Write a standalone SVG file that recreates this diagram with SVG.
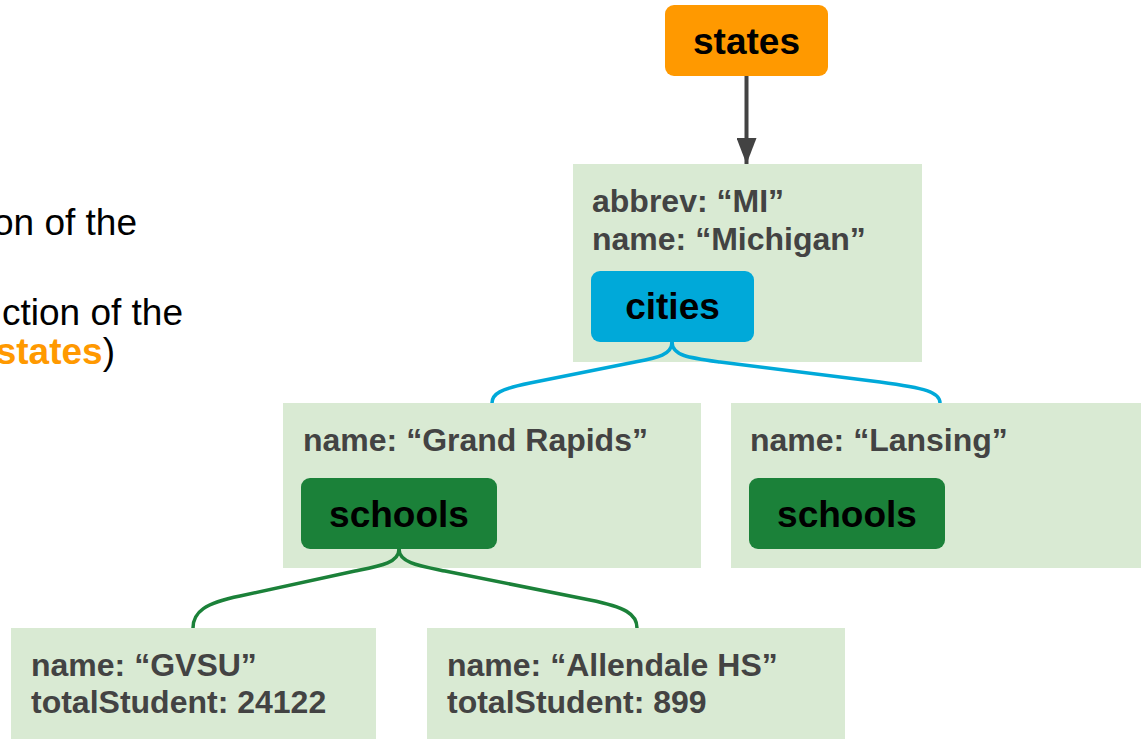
<svg xmlns="http://www.w3.org/2000/svg" width="1141" height="739" viewBox="0 0 1141 739">
<style>
.doc{fill:#D9EAD3}
.t{font-family:"Liberation Sans",Arial,sans-serif;font-weight:bold;font-size:32px;fill:#434343}
.lbl{font-family:"Liberation Sans",Arial,sans-serif;font-weight:bold;font-size:37px;fill:#000;text-anchor:middle}
.side{font-family:"Liberation Sans",Arial,sans-serif;font-size:37px;fill:#000;text-anchor:end}
.cy{fill:none;stroke:#00A9D9;stroke-width:3.5}
.gr{fill:none;stroke:#1B8139;stroke-width:3.5}
</style>
<defs>
<marker id="ah" markerUnits="userSpaceOnUse" markerWidth="27" markerHeight="20" refX="26" refY="10" orient="auto" viewBox="0 0 27 20">
<path d="M0,0 L26,10 L0,20 Z" fill="#434343"/>
</marker>
</defs>
<rect width="1141" height="739" fill="#fff"/>
<g id="side-text">
<text class="side" x="137" y="235">on of the</text>
<text class="side" x="183" y="325">ction of the</text>
<text class="side" x="115" y="364"><tspan style="fill:#FF9900;font-weight:bold">states</tspan><tspan>)</tspan></text>
</g>
<g id="states">
<rect x="665" y="5" width="163" height="71" rx="9" fill="#FF9900"/>
<text class="lbl" x="746.5" y="54">states</text>
</g>
<g id="michigan">
<rect class="doc" x="573" y="164" width="349" height="198"/>
<text class="t" x="592" y="212">abbrev: “MI”</text>
<text class="t" x="592" y="250">name: “Michigan”</text>
</g>
<g id="cities">
<rect x="591" y="271" width="163" height="71" rx="9" fill="#00A9D9"/>
<text class="lbl" x="672.5" y="319">cities</text>
</g>
<g id="grand-rapids">
<rect class="doc" x="283" y="403" width="418" height="165"/>
<text class="t" x="303" y="451">name: “Grand Rapids”</text>
</g>
<g id="schools-gr">
<rect x="301" y="478" width="196" height="71" rx="9" fill="#1B8139"/>
<text class="lbl" x="399" y="527">schools</text>
</g>
<g id="lansing">
<rect class="doc" x="731" y="403" width="410" height="165"/>
<text class="t" x="750" y="451">name: “Lansing”</text>
</g>
<g id="schools-lansing">
<rect x="749" y="478" width="196" height="71" rx="9" fill="#1B8139"/>
<text class="lbl" x="847" y="527">schools</text>
</g>
<g id="gvsu">
<rect class="doc" x="11" y="628" width="365" height="111"/>
<text class="t" x="31" y="676">name: “GVSU”</text>
<text class="t" x="31" y="713">totalStudent: 24122</text>
</g>
<g id="allendale">
<rect class="doc" x="427" y="628" width="418" height="111"/>
<text class="t" x="447" y="676">name: “Allendale HS”</text>
<text class="t" x="447" y="713">totalStudent: 899</text>
</g>
<g id="connectors">
<line x1="746.5" y1="76" x2="746.5" y2="164" stroke="#434343" stroke-width="4" marker-end="url(#ah)"/>
<path class="cy" d="M672,342 C672,356 655,358 630,363 L530,383 C500,389 492,394 492,403"/>
<path class="cy" d="M672,342 C672,356 690,358 720,362 L880,382 C925,388 940,392 940,403"/>
<path class="gr" d="M399,549 C399,563 380,566 355,571 L240,596 C205,603 193,612 193,628"/>
<path class="gr" d="M399,549 C399,563 420,566 445,571 L590,600 C625,607 637,614 637,628"/>
</g>
</svg>
